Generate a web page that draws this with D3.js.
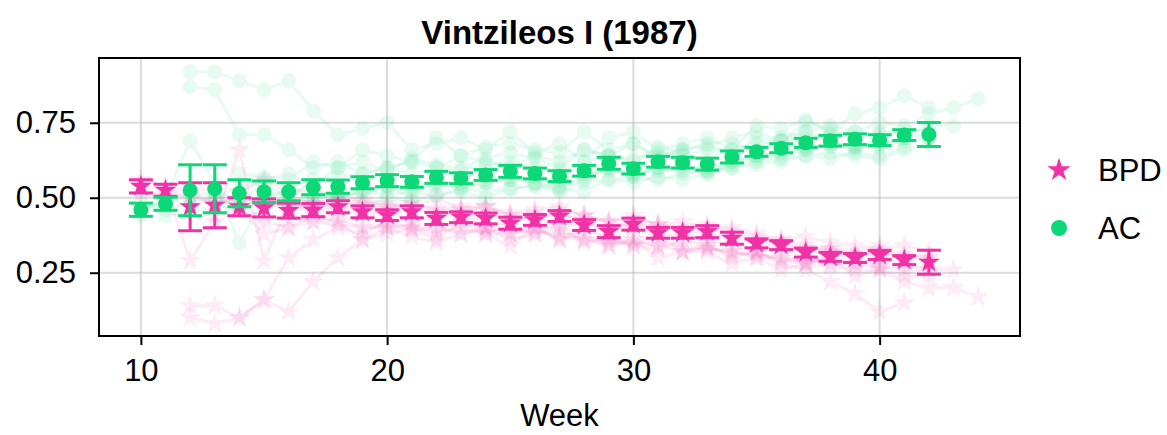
<!DOCTYPE html>
<html>
<head>
<meta charset="utf-8">
<script src="https://cdn.jsdelivr.net/npm/d3@7"></script>
<style>
  body { margin: 0; background: #fff; }
  text { font-family: "Liberation Sans", Arial, sans-serif; }
</style>
</head>
<body>
<div id="chart"></div>
<script>
// weeks for the mean series
var weeks = d3.range(10, 43);

// mean values with +/- error
var bpdMean = [0.538,0.525,0.47,0.475,0.47,0.466,0.457,0.459,0.47,0.453,0.442,0.453,0.431,0.435,0.431,0.415,0.426,0.439,0.409,0.387,0.412,0.383,0.383,0.387,0.365,0.348,0.342,0.317,0.303,0.299,0.309,0.292,0.285];
var bpdErr  = [0.022,0.02,0.08,0.075,0.03,0.03,0.025,0.022,0.02,0.02,0.018,0.02,0.02,0.018,0.018,0.02,0.018,0.018,0.018,0.02,0.02,0.018,0.018,0.02,0.02,0.015,0.015,0.015,0.015,0.015,0.015,0.015,0.04];
var acMean  = [0.46,0.48,0.525,0.53,0.515,0.52,0.52,0.535,0.537,0.55,0.557,0.553,0.568,0.565,0.576,0.588,0.581,0.572,0.59,0.615,0.597,0.62,0.617,0.612,0.636,0.653,0.665,0.683,0.69,0.695,0.692,0.709,0.711];
var acErr   = [0.022,0.022,0.085,0.08,0.045,0.036,0.03,0.025,0.022,0.02,0.02,0.018,0.02,0.018,0.018,0.02,0.018,0.018,0.018,0.02,0.018,0.018,0.018,0.02,0.02,0.015,0.015,0.015,0.018,0.018,0.018,0.018,0.04];

// faint individual traces: first week + values
var acTraces = [
  {start: 12, v: [0.92,0.92,0.89,0.86,0.89,0.79,0.71,0.73,0.75,0.66,0.68,0.70,0.66,0.72,0.65,0.68,0.62,0.70,0.72,0.66,0.68,0.70,0.66,0.74,0.73,0.76,0.72,0.78,0.80,0.84,0.80]},
  {start: 12, v: [0.87,0.86,0.71,0.71,0.66,0.60,0.62,0.58,0.60,0.62,0.60,0.64,0.62,0.60,0.64,0.62,0.66,0.64,0.68,0.64,0.66,0.68,0.64,0.70,0.69,0.72,0.74,0.72,0.75,0.74,0.78,0.80,0.83]},
  {start: 10, v: [0.44,0.50,0.69,0.55,0.35,0.50,0.48,0.52,0.50,0.52,0.54,0.50,0.56,0.54,0.55,0.57,0.55,0.53,0.56,0.60,0.57,0.60,0.59,0.58,0.62,0.64,0.66,0.66,0.68,0.67,0.68,0.70,0.74,0.74]},
  {start: 10, v: [0.48,0.46,0.48,0.50,0.54,0.55,0.50,0.56,0.57,0.58,0.60,0.58,0.60,0.59,0.61,0.62,0.60,0.59,0.62,0.64,0.63,0.65,0.64,0.66,0.66,0.68,0.69,0.70,0.71,0.72,0.71,0.73,0.72]},
  {start: 10, v: [0.46,0.49,0.50,0.52,0.49,0.50,0.53,0.51,0.52,0.53,0.54,0.54,0.55,0.55,0.56,0.56,0.57,0.56,0.58,0.59,0.58,0.60,0.61,0.60,0.62,0.64,0.65,0.67,0.67,0.68,0.68,0.69,0.70]},
  {start: 11, v: [0.44,0.45,0.47,0.47,0.50,0.52,0.50,0.51,0.52,0.53,0.53,0.54,0.53,0.55,0.56,0.55,0.54,0.57,0.60,0.58,0.59,0.60,0.59,0.61,0.63,0.64,0.66,0.68,0.67,0.67,0.70]},
  {start: 14, v: [0.58,0.57,0.56,0.62,0.60,0.66,0.64,0.62,0.70,0.64,0.67,0.68,0.66,0.65,0.72,0.66,0.68,0.63,0.66,0.67,0.70,0.72,0.69,0.75,0.73,0.70,0.72,0.71,0.70]},
  {start: 15, v: [0.47,0.48,0.50,0.50,0.52,0.51,0.52,0.51,0.53,0.52,0.53,0.54,0.52,0.55,0.56,0.55,0.57,0.56,0.58,0.60,0.62,0.63,0.64,0.65,0.64,0.63,0.66,0.68]},
  {start: 13, v: [0.50,0.47,0.56,0.58,0.54,0.60,0.62,0.59,0.63,0.61,0.60,0.63,0.65,0.63,0.60,0.66,0.64,0.62,0.67,0.65,0.62,0.68,0.66,0.70,0.72,0.69,0.66,0.70]},
  {start: 16, v: [0.45,0.48,0.49,0.47,0.50,0.49,0.51,0.52,0.50,0.53,0.54,0.53,0.52,0.56,0.57,0.56,0.58,0.59,0.60,0.61,0.62,0.64,0.63,0.65,0.64,0.67]}
];
var bpdTraces = [
  {start: 12, v: [0.14,0.14,0.10,0.16,0.12,0.22,0.30,0.36,0.38,0.40,0.36,0.42,0.38,0.34,0.40,0.36,0.38,0.34,0.36,0.30,0.32,0.32,0.28,0.30,0.26,0.28,0.30,0.24,0.26,0.22,0.20,0.20,0.17]},
  {start: 12, v: [0.10,0.08,0.10,0.16,0.30,0.36,0.40,0.38,0.42,0.40,0.38,0.44,0.40,0.38,0.40,0.36,0.40,0.36,0.34,0.38,0.32,0.34,0.30,0.32,0.28,0.26,0.22,0.18,0.12,0.15]},
  {start: 10, v: [0.56,0.54,0.29,0.42,0.66,0.29,0.48,0.45,0.47,0.44,0.46,0.42,0.44,0.46,0.40,0.42,0.44,0.40,0.42,0.38,0.40,0.37,0.38,0.36,0.34,0.32,0.34,0.30,0.30,0.28,0.30,0.28,0.26,0.26]},
  {start: 10, v: [0.52,0.51,0.54,0.52,0.46,0.44,0.43,0.42,0.41,0.40,0.40,0.41,0.39,0.40,0.38,0.38,0.39,0.37,0.36,0.35,0.36,0.34,0.34,0.33,0.32,0.31,0.30,0.29,0.28,0.28,0.27,0.26,0.26]},
  {start: 10, v: [0.54,0.53,0.50,0.49,0.48,0.47,0.47,0.48,0.47,0.46,0.45,0.46,0.45,0.44,0.45,0.43,0.44,0.45,0.42,0.40,0.42,0.40,0.39,0.40,0.38,0.36,0.35,0.33,0.32,0.31,0.32,0.30,0.30]},
  {start: 11, v: [0.50,0.51,0.48,0.50,0.49,0.47,0.48,0.50,0.48,0.47,0.48,0.46,0.47,0.47,0.45,0.46,0.47,0.44,0.42,0.43,0.41,0.40,0.41,0.39,0.37,0.36,0.34,0.33,0.32,0.34,0.31,0.30]},
  {start: 14, v: [0.52,0.56,0.52,0.53,0.50,0.49,0.48,0.46,0.50,0.46,0.47,0.44,0.42,0.46,0.44,0.42,0.44,0.41,0.42,0.40,0.40,0.38,0.36,0.37,0.35,0.34,0.33,0.34,0.32]},
  {start: 15, v: [0.42,0.40,0.42,0.43,0.40,0.41,0.39,0.40,0.38,0.39,0.40,0.38,0.39,0.36,0.34,0.35,0.34,0.32,0.33,0.32,0.30,0.30,0.28,0.27,0.26,0.26,0.24,0.24]},
  {start: 13, v: [0.44,0.46,0.38,0.40,0.44,0.42,0.36,0.40,0.37,0.35,0.38,0.40,0.36,0.38,0.41,0.35,0.37,0.34,0.33,0.36,0.34,0.31,0.32,0.29,0.28,0.31,0.30,0.27]},
  {start: 16, v: [0.50,0.48,0.46,0.49,0.47,0.48,0.46,0.45,0.47,0.44,0.45,0.43,0.44,0.42,0.40,0.41,0.39,0.38,0.37,0.35,0.34,0.33,0.33,0.31,0.32,0.30]}
];

var xTicks = [10, 20, 30, 40];
var yTicks = [0.25, 0.50, 0.75];
var series = ["BPD", "AC"];

var pink = "#f032a6", green = "#0dd877";

var margin = {top: 58, right: 147, bottom: 99, left: 99},
    W = 1167, H = 435,
    width = W - margin.left - margin.right,
    height = H - margin.top - margin.bottom;

var svg = d3.select("#chart").append("svg")
    .attr("width", W).attr("height", H);

var x = d3.scaleLinear().domain([8.3, 45.7]).range([0, width]);
var y = d3.scaleLinear().domain([0.039, 0.966]).range([height, 0]);

var g = svg.append("g")
    .attr("transform", "translate(" + margin.left + "," + margin.top + ")");

// grid
g.append("g").selectAll("line").data(xTicks).enter().append("line")
    .attr("x1", d => x(d)).attr("x2", d => x(d))
    .attr("y1", 0).attr("y2", height)
    .attr("stroke", "#b0b0b0").attr("stroke-opacity", 0.45).attr("stroke-width", 2);
g.append("g").selectAll("line").data(yTicks).enter().append("line")
    .attr("y1", d => y(d)).attr("y2", d => y(d))
    .attr("x1", 0).attr("x2", width)
    .attr("stroke", "#b0b0b0").attr("stroke-opacity", 0.45).attr("stroke-width", 2);

var plot = g.append("g");
var star = d3.symbol().type(d3.symbolStar);
var line = d3.line().x(d => x(d[0])).y(d => y(d[1]));

function toPts(t) { return t.v.map((v, i) => [t.start + i, v]); }

// faint traces
function drawTraces(traces, color, isStar) {
    traces.forEach(function(t) {
        var pts = toPts(t);
        var tg = plot.append("g").attr("opacity", 0.09);
        tg.append("path").attr("d", line(pts))
            .attr("fill", "none").attr("stroke", color).attr("stroke-width", 3);
        if (isStar) {
            tg.selectAll("path.m").data(pts).enter().append("path").attr("class", "m")
                .attr("d", star.size(150)())
                .attr("transform", d => "translate(" + x(d[0]) + "," + y(d[1]) + ")")
                .attr("fill", color);
        } else {
            tg.selectAll("circle").data(pts).enter().append("circle")
                .attr("cx", d => x(d[0])).attr("cy", d => y(d[1])).attr("r", 7.5)
                .attr("fill", color);
        }
    });
}
drawTraces(bpdTraces, pink, true);
drawTraces(acTraces, green, false);

// mean + error bars
function drawMeans(mean, err, color, isStar) {
    var data = weeks.map((w, i) => ({w: w, m: mean[i], e: err[i]}));
    var mg = plot.append("g");
    var eb = mg.selectAll("g.eb").data(data).enter().append("g")
        .attr("stroke", color).attr("stroke-width", 3);
    eb.append("line")
        .attr("x1", d => x(d.w)).attr("x2", d => x(d.w))
        .attr("y1", d => y(d.m - d.e)).attr("y2", d => y(d.m + d.e));
    [-1, 1].forEach(function(s) {
        eb.append("line")
            .attr("x1", d => x(d.w) - 12).attr("x2", d => x(d.w) + 12)
            .attr("y1", d => y(d.m + s * d.e)).attr("y2", d => y(d.m + s * d.e));
    });
    if (isStar) {
        mg.selectAll("path.m").data(data).enter().append("path").attr("class", "m")
            .attr("d", star.size(150)())
            .attr("transform", d => "translate(" + x(d.w) + "," + y(d.m) + ")")
            .attr("fill", color);
    } else {
        mg.selectAll("circle").data(data).enter().append("circle")
            .attr("cx", d => x(d.w)).attr("cy", d => y(d.m)).attr("r", 7.5)
            .attr("fill", color);
    }
}
drawMeans(bpdMean, bpdErr, pink, true);
drawMeans(acMean, acErr, green, false);

// axes
var xAxis = g.append("g").attr("transform", "translate(0," + height + ")")
    .call(d3.axisBottom(x).tickValues(xTicks).tickFormat(d3.format("d")).tickSize(9).tickPadding(14));
var yAxis = g.append("g")
    .call(d3.axisLeft(y).tickValues(yTicks).tickFormat(d3.format(".2f")).tickSize(9).tickPadding(14));
[xAxis, yAxis].forEach(function(a) {
    a.select(".domain").remove();
    a.selectAll("line").attr("stroke", "#000").attr("stroke-width", 2);
    a.selectAll("text").attr("font-size", 31).attr("fill", "#000")
        .style("font-family", "'Liberation Sans', Arial, sans-serif");
});

g.append("rect").attr("width", width).attr("height", height)
    .attr("fill", "none").attr("stroke", "#000").attr("stroke-width", 2);

// title and label
svg.append("text").attr("x", margin.left + width / 2).attr("y", 44)
    .attr("text-anchor", "middle").attr("font-size", 33).attr("font-weight", "bold")
    .text("Vintzileos I (1987)");
svg.append("text").attr("x", margin.left + width / 2).attr("y", 426)
    .attr("text-anchor", "middle").attr("font-size", 31)
    .text("Week");

// legend
var leg = svg.append("g").attr("transform", "translate(1059,170)");
series.forEach(function(s, i) {
    var row = leg.append("g").attr("transform", "translate(0," + (i * 58) + ")");
    if (i === 0) {
        row.append("path").attr("d", star.size(170)()).attr("fill", pink);
    } else {
        row.append("circle").attr("r", 8).attr("fill", green);
    }
    row.append("text").attr("x", 39).attr("y", 11).attr("font-size", 31).text(s);
});
</script>
</body>
</html>
